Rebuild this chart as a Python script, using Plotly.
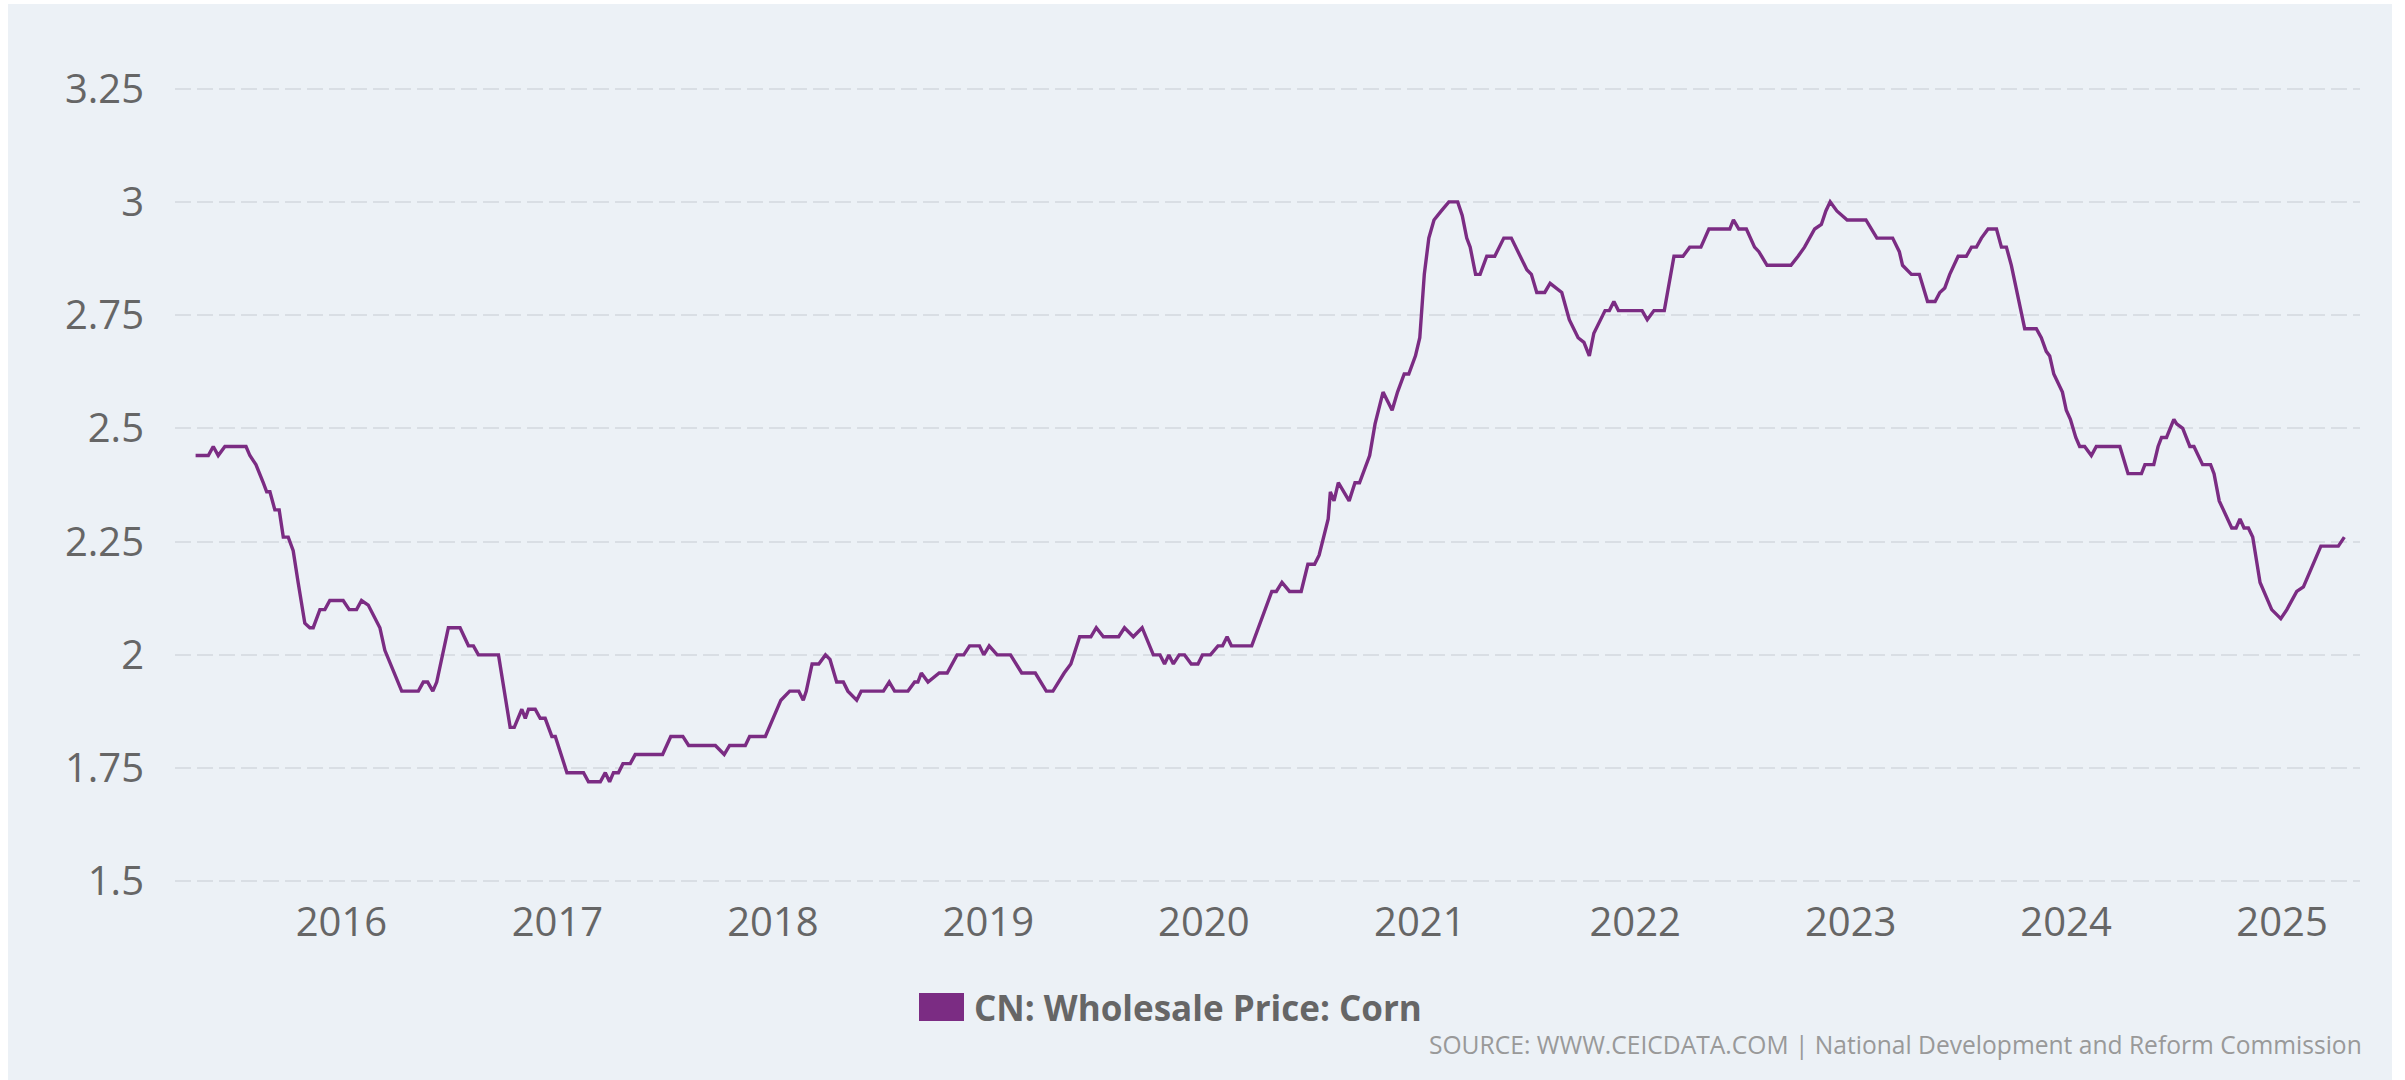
import datetime as dt
import plotly.graph_objects as go

# Weekly wholesale corn price (RMB/kg), vertices of the series as decimal years
year_pos = [
    2015.323, 2015.382, 2015.405, 2015.428, 2015.459, 2015.557, 2015.575, 2015.603, 2015.637, 2015.653,
    2015.668, 2015.691, 2015.711, 2015.730, 2015.753, 2015.776, 2015.799, 2015.830, 2015.853, 2015.869,
    2015.900, 2015.923, 2015.946, 2016.008, 2016.036, 2016.070, 2016.093, 2016.124, 2016.178, 2016.201,
    2016.279, 2016.356, 2016.379, 2016.399, 2016.423, 2016.441, 2016.495, 2016.549, 2016.588, 2016.611,
    2016.634, 2016.727, 2016.781, 2016.800, 2016.835, 2016.851, 2016.866, 2016.897, 2016.920, 2016.943,
    2016.974, 2016.990, 2017.044, 2017.121, 2017.144, 2017.199, 2017.222, 2017.242, 2017.260, 2017.283,
    2017.304, 2017.338, 2017.361, 2017.488, 2017.526, 2017.582, 2017.609, 2017.733, 2017.774, 2017.799,
    2017.872, 2017.892, 2017.965, 2018.037, 2018.078, 2018.120, 2018.141, 2018.155, 2018.182, 2018.213,
    2018.244, 2018.265, 2018.296, 2018.327, 2018.348, 2018.389, 2018.410, 2018.513, 2018.540, 2018.565,
    2018.627, 2018.658, 2018.673, 2018.689, 2018.720, 2018.772, 2018.809, 2018.855, 2018.886, 2018.913,
    2018.959, 2018.979, 2019.004, 2019.041, 2019.103, 2019.155, 2019.218, 2019.269, 2019.300, 2019.352,
    2019.383, 2019.424, 2019.476, 2019.501, 2019.534, 2019.605, 2019.632, 2019.673, 2019.714, 2019.766,
    2019.797, 2019.818, 2019.838, 2019.859, 2019.886, 2019.911, 2019.942, 2019.973, 2019.994, 2020.031,
    2020.066, 2020.087, 2020.108, 2020.128, 2020.222, 2020.284, 2020.315, 2020.336, 2020.362, 2020.397,
    2020.451, 2020.482, 2020.513, 2020.534, 2020.576, 2020.586, 2020.603, 2020.623, 2020.648, 2020.673,
    2020.700, 2020.721, 2020.768, 2020.793, 2020.830, 2020.872, 2020.897, 2020.928, 2020.949, 2020.980,
    2021.000, 2021.021, 2021.042, 2021.066, 2021.100, 2021.135, 2021.176, 2021.197, 2021.218, 2021.234,
    2021.259, 2021.280, 2021.311, 2021.348, 2021.390, 2021.425, 2021.497, 2021.518, 2021.543, 2021.580,
    2021.605, 2021.632, 2021.659, 2021.694, 2021.735, 2021.762, 2021.787, 2021.808, 2021.860, 2021.880,
    2021.901, 2021.922, 2022.032, 2022.056, 2022.087, 2022.135, 2022.180, 2022.222, 2022.253, 2022.305,
    2022.342, 2022.439, 2022.456, 2022.481, 2022.516, 2022.554, 2022.574, 2022.612, 2022.723, 2022.756,
    2022.786, 2022.833, 2022.864, 2022.885, 2022.905, 2022.936, 2022.984, 2023.071, 2023.096, 2023.122,
    2023.195, 2023.226, 2023.241, 2023.282, 2023.319, 2023.357, 2023.392, 2023.414, 2023.437, 2023.460,
    2023.499, 2023.537, 2023.561, 2023.584, 2023.607, 2023.638, 2023.677, 2023.700, 2023.723, 2023.746,
    2023.808, 2023.862, 2023.885, 2023.908, 2023.924, 2023.943, 2023.983, 2024.001, 2024.020, 2024.045,
    2024.063, 2024.086, 2024.117, 2024.140, 2024.249, 2024.287, 2024.349, 2024.365, 2024.406, 2024.426,
    2024.442, 2024.465, 2024.499, 2024.512, 2024.540, 2024.573, 2024.592, 2024.632, 2024.669, 2024.685,
    2024.709, 2024.767, 2024.787, 2024.805, 2024.824, 2024.844, 2024.864, 2024.898, 2024.952, 2024.994,
    2025.022, 2025.068, 2025.099, 2025.180, 2025.261, 2025.289,
]

price = [
    2.44, 2.44, 2.46, 2.44, 2.46, 2.46, 2.44, 2.42, 2.38, 2.36,
    2.36, 2.32, 2.32, 2.26, 2.26, 2.23, 2.16, 2.07, 2.06, 2.06,
    2.10, 2.10, 2.12, 2.12, 2.10, 2.10, 2.12, 2.11, 2.06, 2.01,
    1.92, 1.92, 1.94, 1.94, 1.92, 1.94, 2.06, 2.06, 2.02, 2.02,
    2.00, 2.00, 1.84, 1.84, 1.88, 1.86, 1.88, 1.88, 1.86, 1.86,
    1.82, 1.82, 1.74, 1.74, 1.72, 1.72, 1.74, 1.72, 1.74, 1.74,
    1.76, 1.76, 1.78, 1.78, 1.82, 1.82, 1.80, 1.80, 1.78, 1.80,
    1.80, 1.82, 1.82, 1.90, 1.92, 1.92, 1.90, 1.92, 1.98, 1.98,
    2.00, 1.99, 1.94, 1.94, 1.92, 1.90, 1.92, 1.92, 1.94, 1.92,
    1.92, 1.94, 1.94, 1.96, 1.94, 1.96, 1.96, 2.00, 2.00, 2.02,
    2.02, 2.00, 2.02, 2.00, 2.00, 1.96, 1.96, 1.92, 1.92, 1.96,
    1.98, 2.04, 2.04, 2.06, 2.04, 2.04, 2.06, 2.04, 2.06, 2.00,
    2.00, 1.98, 2.00, 1.98, 2.00, 2.00, 1.98, 1.98, 2.00, 2.00,
    2.02, 2.02, 2.04, 2.02, 2.02, 2.10, 2.14, 2.14, 2.16, 2.14,
    2.14, 2.20, 2.20, 2.22, 2.30, 2.36, 2.34, 2.38, 2.36, 2.34,
    2.38, 2.38, 2.44, 2.51, 2.58, 2.54, 2.58, 2.62, 2.62, 2.66,
    2.70, 2.84, 2.92, 2.96, 2.98, 3.00, 3.00, 2.97, 2.92, 2.90,
    2.84, 2.84, 2.88, 2.88, 2.92, 2.92, 2.85, 2.84, 2.80, 2.80,
    2.82, 2.81, 2.80, 2.74, 2.70, 2.69, 2.66, 2.71, 2.76, 2.76,
    2.78, 2.76, 2.76, 2.74, 2.76, 2.76, 2.88, 2.88, 2.90, 2.90,
    2.94, 2.94, 2.96, 2.94, 2.94, 2.90, 2.89, 2.86, 2.86, 2.88,
    2.90, 2.94, 2.95, 2.98, 3.00, 2.98, 2.96, 2.96, 2.94, 2.92,
    2.92, 2.89, 2.86, 2.84, 2.84, 2.78, 2.78, 2.80, 2.81, 2.84,
    2.88, 2.88, 2.90, 2.90, 2.92, 2.94, 2.94, 2.90, 2.90, 2.86,
    2.72, 2.72, 2.70, 2.67, 2.66, 2.62, 2.58, 2.54, 2.52, 2.48,
    2.46, 2.46, 2.44, 2.46, 2.46, 2.40, 2.40, 2.42, 2.42, 2.46,
    2.48, 2.48, 2.52, 2.51, 2.50, 2.46, 2.46, 2.42, 2.42, 2.40,
    2.34, 2.28, 2.28, 2.30, 2.28, 2.28, 2.26, 2.16, 2.10, 2.08,
    2.10, 2.14, 2.15, 2.24, 2.24, 2.26,
]

y_ticks = [1.5, 1.75, 2.0, 2.25, 2.5, 2.75, 3.0, 3.25]
y_tick_labels = ["1.5", "1.75", "2", "2.25", "2.5", "2.75", "3", "3.25"]

series_name = "CN: Wholesale Price: Corn"
source_text = "SOURCE: WWW.CEICDATA.COM | National Development and Reform Commission"

LINE_COLOR = "#7B2C83"
BG_COLOR = "#ECF1F6"
TEXT_COLOR = "#666666"


def to_date(t):
    year = int(t)
    start = dt.datetime(year, 1, 1)
    end = dt.datetime(year + 1, 1, 1)
    return start + (end - start) * (t - year)


dates = [to_date(t) for t in year_pos]

W, H = 2405, 1080
M_L, M_R, M_T, M_B = 175, 45, 75, 185
plot_w = W - M_L - M_R
plot_h = H - M_T - M_B


def px_x(px):
    return (px - M_L) / plot_w


def px_y(py):
    return (H - M_B - py) / plot_h


fig = go.Figure()
fig.add_trace(go.Scatter(
    x=dates, y=price, mode="lines", name=series_name,
    line=dict(color=LINE_COLOR, width=3.4),
    showlegend=False,
))

shapes = [
    # panel background
    dict(type="rect", xref="paper", yref="paper", layer="below",
         x0=px_x(8), x1=px_x(2392), y0=px_y(1080), y1=px_y(4),
         fillcolor=BG_COLOR, line=dict(width=0)),
    # legend swatch
    dict(type="rect", xref="paper", yref="paper",
         x0=px_x(919), x1=px_x(964), y0=px_y(1021), y1=px_y(993),
         fillcolor=LINE_COLOR, line=dict(width=0)),
]

annotations = [
    dict(text=series_name, xref="paper", yref="paper",
         x=px_x(972), y=px_y(1007), xanchor="left", yanchor="middle",
         showarrow=False,
         font=dict(family="Open Sans", size=35, color=TEXT_COLOR, weight="bold")),
    dict(text=source_text, xref="paper", yref="paper",
         x=px_x(2364), y=px_y(1044), xanchor="right", yanchor="middle",
         showarrow=False,
         font=dict(family="Open Sans", size=24.6, color="#999999")),
]

fig.update_layout(
    width=W, height=H,
    margin=dict(l=M_L, r=M_R, t=M_T, b=M_B, pad=0),
    paper_bgcolor="white",
    plot_bgcolor="rgba(0,0,0,0)",
    font=dict(family="Open Sans", size=40, color=TEXT_COLOR),
    shapes=shapes,
    annotations=annotations,
    showlegend=False,
)

fig.update_xaxes(
    type="date",
    range=["2015-03-25", "2025-05-13"],
    tick0="2016-01-01", dtick="M12", tickformat="%Y",
    showgrid=False, zeroline=False, showline=False,
    ticks="", ticklabelstandoff=0,
)

fig.update_yaxes(
    range=[1.47, 3.28],
    tickmode="array", tickvals=y_ticks, ticktext=y_tick_labels,
    showgrid=True, gridcolor="#D9DEE4", gridwidth=2, griddash="16px,6px",
    zeroline=False, showline=False,
    ticks="", ticklabelstandoff=30,
)

fig.write_html("out.html")
